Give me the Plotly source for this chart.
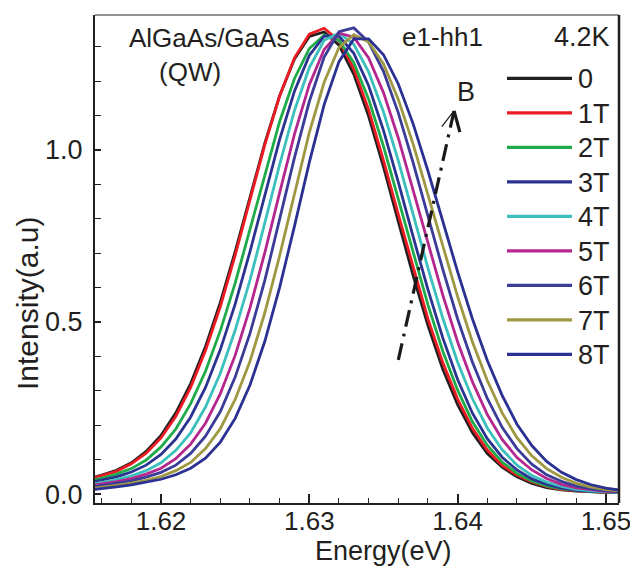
import plotly.graph_objects as go

# ---------------- data ----------------
energy = [1.615, 1.616, 1.617, 1.618, 1.619, 1.620, 1.621, 1.622, 1.623, 1.624,
          1.625, 1.626, 1.627, 1.628, 1.629, 1.630, 1.631, 1.632, 1.633, 1.634,
          1.635, 1.636, 1.637, 1.638, 1.639, 1.640, 1.641, 1.642, 1.643, 1.644,
          1.645, 1.646, 1.647, 1.648, 1.649, 1.650, 1.651]

field_labels = ["0", "1T", "2T", "3T", "4T", "5T", "6T", "7T", "8T"]

i_0T = [0.044, 0.055, 0.069, 0.091, 0.124, 0.170, 0.236, 0.321, 0.429, 0.557,
        0.705, 0.864, 1.020, 1.158, 1.265, 1.330, 1.343, 1.305, 1.220, 1.098,
        0.951, 0.792, 0.635, 0.490, 0.363, 0.260, 0.178, 0.118, 0.078, 0.050,
        0.031, 0.019, 0.0125, 0.0085, 0.006, 0.005, 0.005]
i_1T = [0.042, 0.053, 0.066, 0.088, 0.119, 0.163, 0.226, 0.310, 0.417, 0.545,
        0.694, 0.855, 1.015, 1.157, 1.268, 1.337, 1.354, 1.318, 1.236, 1.117,
        0.970, 0.813, 0.657, 0.509, 0.382, 0.276, 0.191, 0.128, 0.083, 0.055,
        0.035, 0.022, 0.013, 0.009, 0.007, 0.005, 0.005]
i_2T = [0.037, 0.046, 0.058, 0.074, 0.099, 0.137, 0.189, 0.263, 0.357, 0.475,
        0.613, 0.770, 0.931, 1.083, 1.208, 1.295, 1.334, 1.319, 1.254, 1.148,
        1.011, 0.857, 0.700, 0.550, 0.415, 0.302, 0.210, 0.142, 0.093, 0.060,
        0.038, 0.024, 0.015, 0.010, 0.007, 0.006, 0.005]
i_3T = [0.032, 0.040, 0.050, 0.064, 0.084, 0.115, 0.160, 0.224, 0.310, 0.420,
        0.552, 0.705, 0.870, 1.031, 1.171, 1.275, 1.331, 1.331, 1.281, 1.187,
        1.057, 0.907, 0.748, 0.594, 0.454, 0.333, 0.235, 0.161, 0.107, 0.070,
        0.044, 0.028, 0.017, 0.011, 0.008, 0.006, 0.005]
i_4T = [0.027, 0.033, 0.042, 0.053, 0.068, 0.091, 0.127, 0.178, 0.253, 0.351,
        0.476, 0.622, 0.788, 0.958, 1.115, 1.240, 1.319, 1.340, 1.307, 1.227,
        1.111, 0.969, 0.813, 0.657, 0.511, 0.383, 0.277, 0.192, 0.129, 0.084,
        0.054, 0.035, 0.022, 0.014, 0.009, 0.007, 0.005]
i_5T = [0.023, 0.029, 0.036, 0.045, 0.058, 0.075, 0.103, 0.145, 0.206, 0.292,
        0.403, 0.541, 0.702, 0.876, 1.046, 1.190, 1.292, 1.340, 1.328, 1.268,
        1.167, 1.035, 0.885, 0.728, 0.578, 0.442, 0.326, 0.231, 0.159, 0.106,
        0.070, 0.045, 0.028, 0.018, 0.012, 0.008, 0.006]
i_6T = [0.018, 0.024, 0.030, 0.038, 0.049, 0.063, 0.084, 0.118, 0.168, 0.240,
        0.340, 0.467, 0.621, 0.797, 0.978, 1.141, 1.270, 1.344, 1.355, 1.314,
        1.229, 1.108, 0.963, 0.808, 0.653, 0.509, 0.383, 0.278, 0.194, 0.132,
        0.087, 0.056, 0.037, 0.023, 0.015, 0.010, 0.007]
i_7T = [0.014, 0.019, 0.025, 0.032, 0.040, 0.051, 0.068, 0.092, 0.132, 0.190,
        0.275, 0.386, 0.527, 0.693, 0.874, 1.051, 1.197, 1.298, 1.335, 1.314,
        1.250, 1.147, 1.017, 0.870, 0.720, 0.574, 0.442, 0.330, 0.236, 0.164,
        0.111, 0.074, 0.049, 0.031, 0.020, 0.013, 0.009]
i_8T = [0.011, 0.015, 0.021, 0.027, 0.034, 0.043, 0.056, 0.075, 0.104, 0.151,
        0.220, 0.317, 0.444, 0.601, 0.779, 0.964, 1.132, 1.257, 1.323, 1.323,
        1.277, 1.192, 1.076, 0.939, 0.793, 0.646, 0.509, 0.388, 0.287, 0.203,
        0.141, 0.095, 0.063, 0.042, 0.027, 0.017, 0.011]

x_ticks = [1.62, 1.63, 1.64, 1.65]
y_ticks = [0.0, 0.5, 1.0]

# arrow "B" (energy, intensity)
arrow_start = (1.6360, 0.39)
arrow_tip = (1.63976, 1.114)
arrow_left_wing = (1.63893, 1.068)
arrow_right_wing = (1.64015, 1.052)

# ---------------- style ----------------
colors = ["#231f20", "#ed1c24", "#1fab4a", "#2b3390", "#3cc0bd",
          "#b5278f", "#3a3c98", "#9f9843", "#2b3192"]
series = [i_0T, i_1T, i_2T, i_3T, i_4T, i_5T, i_6T, i_7T, i_8T]
FONT = "Liberation Sans, Arial, sans-serif"
TXT = "#231f20"

fig = go.Figure()
for lab, ys, col in zip(field_labels, series, colors):
    fig.add_trace(go.Scatter(x=energy, y=ys, mode="lines", name=lab,
                             line=dict(color=col, width=2.8), showlegend=False))

# dash-dot arrow
fig.add_trace(go.Scatter(x=[arrow_start[0], arrow_tip[0]], y=[arrow_start[1], arrow_tip[1]],
                         mode="lines", showlegend=False, hoverinfo="skip",
                         line=dict(color="#1a1a1a", width=3.2, dash="17px,7px,3px,7px")))
fig.add_trace(go.Scatter(x=[arrow_left_wing[0], arrow_tip[0]], y=[arrow_left_wing[1], arrow_tip[1]],
                         mode="lines", showlegend=False, hoverinfo="skip",
                         line=dict(color="#1a1a1a", width=1.2)))
fig.add_trace(go.Scatter(x=[arrow_tip[0], arrow_right_wing[0]], y=[arrow_tip[1], arrow_right_wing[1]],
                         mode="lines", showlegend=False, hoverinfo="skip",
                         line=dict(color="#1a1a1a", width=3.2)))

# page body has an 8px default margin: size the figure so the plot area
# lands at screen x 95..619, y 15..503
OFF = 8
W, H = 638 - OFF, 567 - OFF
L, R, T, B = 95 - OFF, 19, 15 - OFF, 64
SX0, SX1, SY0, SY1 = 95, 619, 15, 503


def px(xs):
    return (xs - SX0) / (SX1 - SX0)


def py(ys):
    return (SY1 - ys) / (SY1 - SY0)


annotations = []
shapes = []

# custom legend
for k, (lab, col) in enumerate(zip(field_labels, colors)):
    yc = 78.3 + 34.5 * k
    shapes.append(dict(type="line", xref="paper", yref="paper",
                       x0=px(507), x1=px(572), y0=py(yc), y1=py(yc),
                       line=dict(color=col, width=3.2)))
    annotations.append(dict(text=lab, xref="paper", yref="paper", x=px(576), y=py(yc + 1),
                            xanchor="left", yanchor="middle", showarrow=False,
                            font=dict(size=27, color=TXT, family=FONT)))

for txt, xl, yc, size in [("AlGaAs/GaAs", 127, 38, 26), ("(QW)", 157, 72, 26),
                          ("e1-hh1", 400, 37, 26), ("4.2K", 552, 37, 27)]:
    annotations.append(dict(text=txt, xref="paper", yref="paper", x=px(xl), y=py(yc),
                            xanchor="left", yanchor="middle", showarrow=False,
                            font=dict(size=size, color=TXT, family=FONT)))
annotations.append(dict(text="B", xref="paper", yref="paper", x=px(466), y=py(92),
                        xanchor="center", yanchor="middle", showarrow=False,
                        font=dict(size=27, color=TXT, family=FONT)))
annotations.append(dict(text="Energy(eV)", xref="paper", yref="paper", x=px(383), y=py(551),
                        xanchor="center", yanchor="middle", showarrow=False,
                        font=dict(size=27, color=TXT, family=FONT)))
annotations.append(dict(text="Intensity(a.u)", xref="paper", yref="paper", x=px(27), y=py(304),
                        xanchor="center", yanchor="middle", showarrow=False, textangle=-90,
                        font=dict(size=30, color=TXT, family=FONT)))

# frame: thin grey top, thick black right
shapes.append(dict(type="line", xref="paper", yref="paper", x0=0, x1=1, y0=1, y1=1,
                   line=dict(color="#6d6e71", width=1.5)))
shapes.append(dict(type="line", xref="paper", yref="paper", x0=1, x1=1, y0=0, y1=1,
                   line=dict(color="#231f20", width=2.5)))

fig.update_layout(
    width=W, height=H,
    margin=dict(l=L, r=R, t=T, b=B, pad=0),
    paper_bgcolor="white", plot_bgcolor="white",
    font=dict(family=FONT, color=TXT, size=27),
    annotations=annotations, shapes=shapes,
    showlegend=False,
)
fig.update_xaxes(range=[1.61555, 1.65088], showgrid=False, zeroline=False,
                 showline=True, linecolor="#231f20", linewidth=2.2,
                 tickmode="array", tickvals=x_ticks, tickformat=".2f",
                 ticks="inside", ticklen=9, tickwidth=1.6, tickcolor="#231f20",
                 ticklabelstandoff=-6,
                 tickfont=dict(size=26, color=TXT, family=FONT),
                 minor=dict(dtick=0.002, tick0=1.616, ticks="inside", ticklen=5,
                            tickwidth=1.4, tickcolor="#231f20", showgrid=False))
fig.update_yaxes(range=[-0.026, 1.3925], showgrid=False, zeroline=False,
                 showline=True, linecolor="#231f20", linewidth=2.2,
                 tickmode="array", tickvals=y_ticks, tickformat=".1f",
                 ticks="inside", ticklen=6, tickwidth=1.6, tickcolor="#231f20",
                 ticklabelstandoff=5,
                 tickfont=dict(size=27, color=TXT, family=FONT),
                 minor=dict(dtick=0.1, tick0=0, ticks="inside", ticklen=6,
                            tickwidth=1.4, tickcolor="#231f20", showgrid=False))

fig.write_html("out.html")
